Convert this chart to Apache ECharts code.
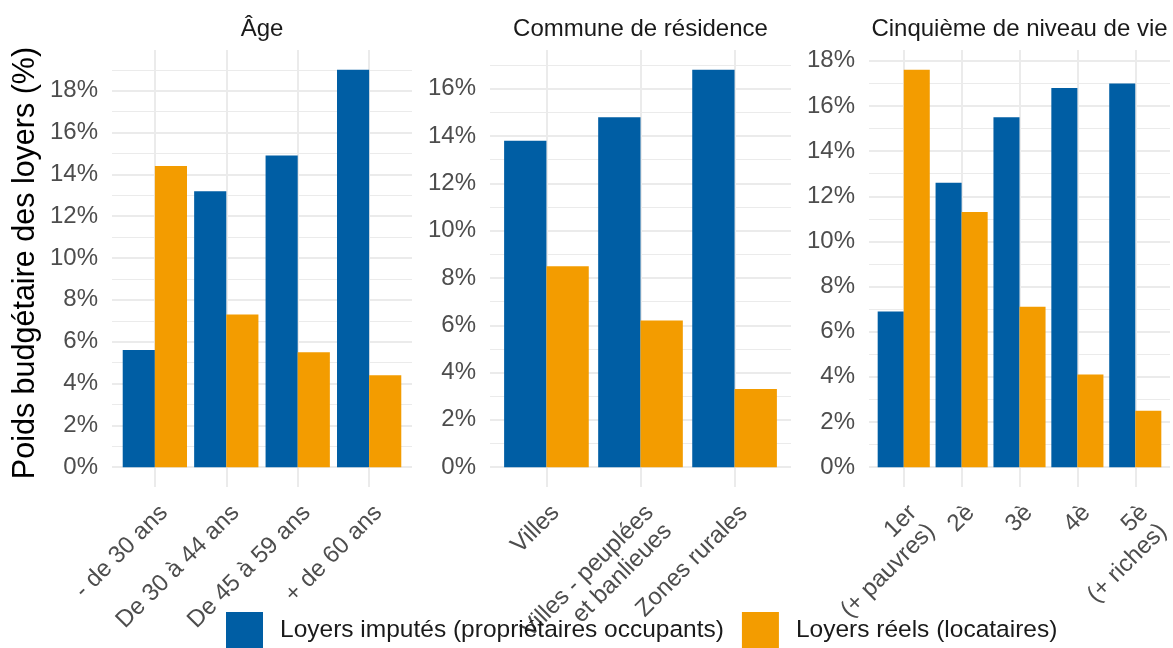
<!DOCTYPE html>
<html><head><meta charset="utf-8">
<script src="https://cdn.jsdelivr.net/npm/echarts@6/dist/echarts.min.js"></script>
<style>html,body{margin:0;padding:0;background:#fff}#c{width:1173px;height:648px}</style>
</head><body><div id="c"></div>
<script>
// ---- data ----
const seriesNames = ['Loyers imputés (propriétaires occupants)', 'Loyers réels (locataires)'];
const panelTitles = ['Âge', 'Commune de résidence', 'Cinquième de niveau de vie'];
const yAxisTitle = 'Poids budgétaire des loyers (%)';

const ageCats = ['- de 30 ans', 'De 30 à 44 ans', 'De 45 à 59 ans', '+ de 60 ans'];
const ageImputes = [5.6, 13.2, 14.9, 19.0];
const ageReels = [14.4, 7.3, 5.5, 4.4];

const communeCats = ['Villes', 'Villes - peuplées\net banlieues', 'Zones rurales'];
const communeImputes = [13.8, 14.8, 16.8];
const communeReels = [8.5, 6.2, 3.3];

const quintCats = ['1er\n(+ pauvres)', '2è', '3è', '4è', '5è\n(+ riches)'];
const quintImputes = [6.9, 12.6, 15.5, 16.8, 17.0];
const quintReels = [17.6, 11.3, 7.1, 4.1, 2.5];

// ---- layout / style ----
const FONT = "'Liberation Sans', Arial, Helvetica, sans-serif";
const colors = ['#005EA4', '#F39C00'];
const gridTop = 50, gridHeight = 437;
const panels = [
  { cats: ageCats, a: ageImputes, b: ageReels, title: panelTitles[0], left: 112, width: 300 },
  { cats: communeCats, a: communeImputes, b: communeReels, title: panelTitles[1], left: 490, width: 301 },
  { cats: quintCats, a: quintImputes, b: quintReels, title: panelTitles[2], left: 869, width: 301 }
];

const grid = [], xAxis = [], yAxis = [], series = [], title = [];
panels.forEach((p, i) => {
  const n = p.cats.length;
  const idx = p.cats.map((_, k) => k);
  const dmax = Math.max(...p.a, ...p.b);
  const ymin = -0.05 * dmax, ymax = 1.05 * dmax;
  grid.push({ left: p.left, top: gridTop, width: p.width, height: gridHeight, containLabel: false, outerBoundsMode: 'none' });
  title.push({
    text: p.title, left: p.left + p.width / 2, top: 17, textAlign: 'center', padding: 0,
    textStyle: { fontSize: 24, fontWeight: 'normal', color: '#1a1a1a', fontFamily: FONT }
  });
  xAxis.push({
    type: 'value', gridIndex: i, min: -0.6, max: n - 0.4, minInterval: 1, maxInterval: 1,
    axisLine: { show: false }, axisTick: { show: false },
    axisLabel: {
      customValues: idx,
      formatter: v => (Number.isInteger(v) && p.cats[v] !== undefined) ? p.cats[v] : '',
      rotate: 45, align: 'right', verticalAlign: 'top', margin: 13,
      fontSize: 24, lineHeight: 26, color: '#4d4d4d', fontFamily: FONT
    },
    splitLine: { show: true, showMinLine: false, showMaxLine: false, lineStyle: { color: '#ebebeb', width: 2 } }
  });
  yAxis.push({
    type: 'value', gridIndex: i, min: ymin, max: ymax, minInterval: 2, maxInterval: 2,
    axisLine: { show: false }, axisTick: { show: false },
    axisLabel: {
      formatter: v => (v >= 0 && Number.isInteger(v)) ? v + '%' : '',
      margin: 14, fontSize: 24, color: '#4d4d4d', fontFamily: FONT
    },
    splitLine: { show: true, showMinLine: false, showMaxLine: false, lineStyle: { color: '#ebebeb', width: 2 } }
  });
  yAxis.push({
    type: 'value', gridIndex: i, min: ymin, max: ymax, minInterval: 1, maxInterval: 1,
    axisLine: { show: false }, axisTick: { show: false }, axisLabel: { show: false },
    splitLine: { show: true, showMinLine: false, showMaxLine: false, lineStyle: { color: '#ebebeb', width: 1 } }
  });
  [p.a, p.b].forEach((vals, s) => {
    series.push({
      type: 'bar', name: seriesNames[s], xAxisIndex: i, yAxisIndex: 2 * i,
      data: vals.map((v, k) => [k, v]),
      barGap: '0%', barCategoryGap: '10%',
      itemStyle: { color: colors[s] },
      emphasis: { disabled: true }
    });
  });
});

const chart = echarts.init(document.getElementById('c'), null, { renderer: 'canvas' });
chart.setOption({
  animation: false,
  textStyle: { fontFamily: FONT },
  color: colors,
  title, grid, xAxis, yAxis, series,
  legend: {
    data: seriesNames, left: 226, top: 612, padding: 0, itemWidth: 37, itemHeight: 37, itemGap: 18,
    icon: 'rect', selectedMode: false,
    textStyle: { fontSize: 24.5, color: '#1a1a1a', fontFamily: FONT, padding: [0, 0, 0, 12] }
  },
  graphic: [{
    type: 'text', x: 26, y: 263, rotation: Math.PI / 2,
    style: { text: yAxisTitle, fontSize: 30.5, fill: '#000', align: 'center', verticalAlign: 'middle', fontFamily: FONT }
  }]
});
</script></body></html>
